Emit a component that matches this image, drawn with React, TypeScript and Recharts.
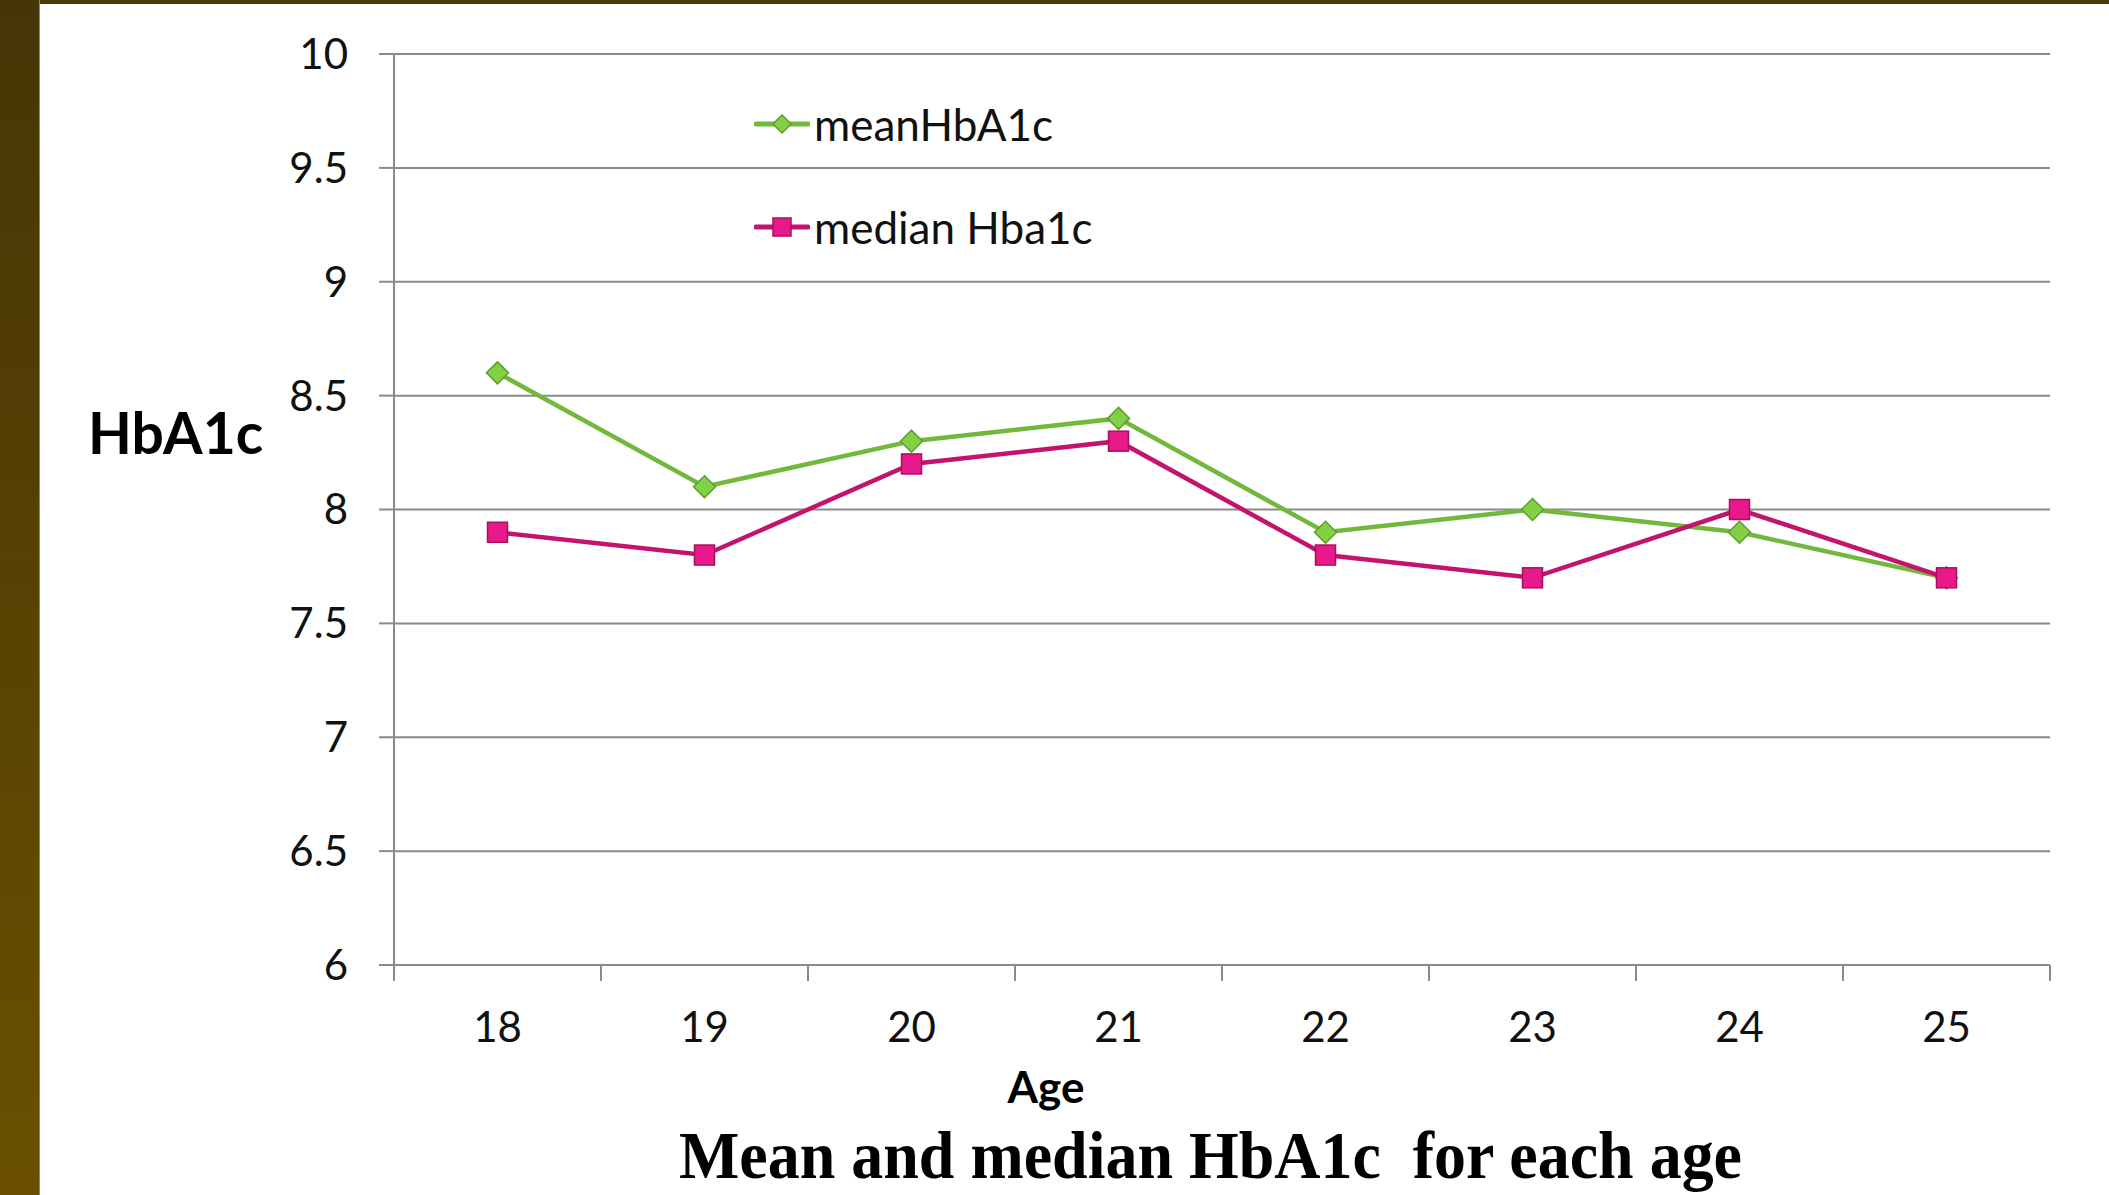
import { LineChart, Line, XAxis, YAxis, CartesianGrid } from "recharts";

const ages = [18, 19, 20, 21, 22, 23, 24, 25];
const meanHbA1c = [8.6, 8.1, 8.3, 8.4, 7.9, 8.0, 7.9, 7.7];
const medianHbA1c = [7.9, 7.8, 8.2, 8.3, 7.8, 7.7, 8.0, 7.7];
const yTicks = [6, 6.5, 7, 7.5, 8, 8.5, 9, 9.5, 10];
const xTicks = [17.5, 18, 18.5, 19, 19.5, 20, 20.5, 21, 21.5, 22, 22.5, 23, 23.5, 24, 24.5, 25, 25.5];

const data = ages.map((age, i) => ({ age, mean: meanHbA1c[i], median: medianHbA1c[i] }));

const GREEN = "#72b83c";
const GREEN_FILL = "#82d045";
const GREEN_EDGE = "#5c9e2c";
const PINK = "#c4136c";
const PINK_FILL = "#e8198a";
const PINK_EDGE = "#a90f5c";
const GRID = "#8a8a8a";
const FONT = "Lato, 'Open Sans', sans-serif";

const Diamond = (props: any) => {
  const { cx, cy, half = 11 } = props;
  if (cx == null || cy == null) return null;
  return (
    <polygon
      points={`${cx},${cy - half} ${cx + half},${cy} ${cx},${cy + half} ${cx - half},${cy}`}
      fill={GREEN_FILL}
      stroke={GREEN_EDGE}
      strokeWidth={1.5}
    />
  );
};

const Square = (props: any) => {
  const { cx, cy, half = 10 } = props;
  if (cx == null || cy == null) return null;
  return (
    <rect
      x={cx - half}
      y={cy - half}
      width={half * 2}
      height={half * 2}
      fill={PINK_FILL}
      stroke={PINK_EDGE}
      strokeWidth={1.5}
    />
  );
};

const XTick = (props: any) => {
  const { x, y, payload } = props;
  const v = payload.value;
  if (!Number.isInteger(v)) {
    return <line x1={x} x2={x} y1={y} y2={y + 16} stroke={GRID} strokeWidth={2} />;
  }
  return (
    <text x={x} y={y + 77} textAnchor="middle" fontSize={42} fontFamily={FONT} fill="#111">
      {v}
    </text>
  );
};

const legendItems = [
  { label: "meanHbA1c", color: GREEN, marker: "diamond" },
  { label: "median Hba1c", color: PINK, marker: "square" },
];

export default function App() {
  return (
    <div style={{ position: "absolute", left: 0, top: 0, width: 2109, height: 1195, background: "#fff", overflow: "hidden" }}>
      <div style={{ position: "absolute", left: 0, top: 0, width: 2109, height: 4, background: "#4a3a08" }} />
      <div
        style={{
          position: "absolute",
          left: 0,
          top: 0,
          width: 39,
          height: 1195,
          background: "linear-gradient(#463506, #6b5000)",
          borderRight: "1px solid #9a8a50",
        }}
      />
      <LineChart width={2109} height={1195} data={data} margin={{ top: 54, right: 59, bottom: 0, left: 0 }}>
        <CartesianGrid vertical={false} stroke={GRID} strokeWidth={2} />
        <XAxis
          dataKey="age"
          type="number"
          domain={[17.5, 25.5]}
          ticks={xTicks}
          interval={0}
          height={230}
          tickSize={0}
          tickMargin={0}
          tickLine={false}
          tick={<XTick />}
          axisLine={{ stroke: GRID, strokeWidth: 2 }}
        />
        <YAxis
          domain={[6, 10]}
          ticks={yTicks}
          interval={0}
          width={394}
          tickSize={15}
          tickMargin={31}
          tick={{ fontSize: 42, fontFamily: FONT, fill: "#111" }}
          tickLine={{ stroke: GRID, strokeWidth: 2 }}
          axisLine={{ stroke: GRID, strokeWidth: 2 }}
        />
        <Line
          dataKey="mean"
          name="meanHbA1c"
          stroke={GREEN}
          strokeWidth={4.5}
          dot={<Diamond />}
          activeDot={false}
          isAnimationActive={false}
        />
        <Line
          dataKey="median"
          name="median Hba1c"
          stroke={PINK}
          strokeWidth={4.5}
          dot={<Square />}
          activeDot={false}
          isAnimationActive={false}
        />
      </LineChart>
      <div style={{ position: "absolute", left: 754, top: 72 }}>
        {legendItems.map((it) => (
          <div key={it.label} style={{ display: "flex", alignItems: "center", height: 103 }}>
            <svg width={56} height={30} style={{ marginRight: 4 }}>
              <line x1={2} x2={54} y1={15} y2={15} stroke={it.color} strokeWidth={5} strokeLinecap="round" />
              {it.marker === "diamond" ? <Diamond cx={28} cy={15} half={9} /> : <Square cx={28} cy={15} half={9} />}
            </svg>
            <span style={{ fontFamily: FONT, fontSize: 44, color: "#111" }}>{it.label}</span>
          </div>
        ))}
      </div>
      <div
        style={{
          position: "absolute",
          left: 88,
          top: 404,
          fontFamily: FONT,
          fontWeight: 700,
          fontSize: 57,
          color: "#000",
          lineHeight: 1,
        }}
      >
        HbA1c
      </div>
      <div
        style={{
          position: "absolute",
          left: 1046,
          top: 1064,
          transform: "translateX(-50%)",
          fontFamily: FONT,
          fontWeight: 700,
          fontSize: 44,
          color: "#000",
          lineHeight: 1,
        }}
      >
        Age
      </div>
      <svg style={{ position: "absolute", left: 0, top: 0 }} width={2109} height={1195}>
        <text
          x={679}
          y={1178}
          textLength={1063}
          lengthAdjust="spacingAndGlyphs"
          fontFamily="'Liberation Serif', 'Times New Roman', serif"
          fontWeight={700}
          fontSize={68}
          fill="#000"
          style={{ whiteSpace: "pre" }}
        >
          Mean and median HbA1c  for each age
        </text>
      </svg>
    </div>
  );
}
